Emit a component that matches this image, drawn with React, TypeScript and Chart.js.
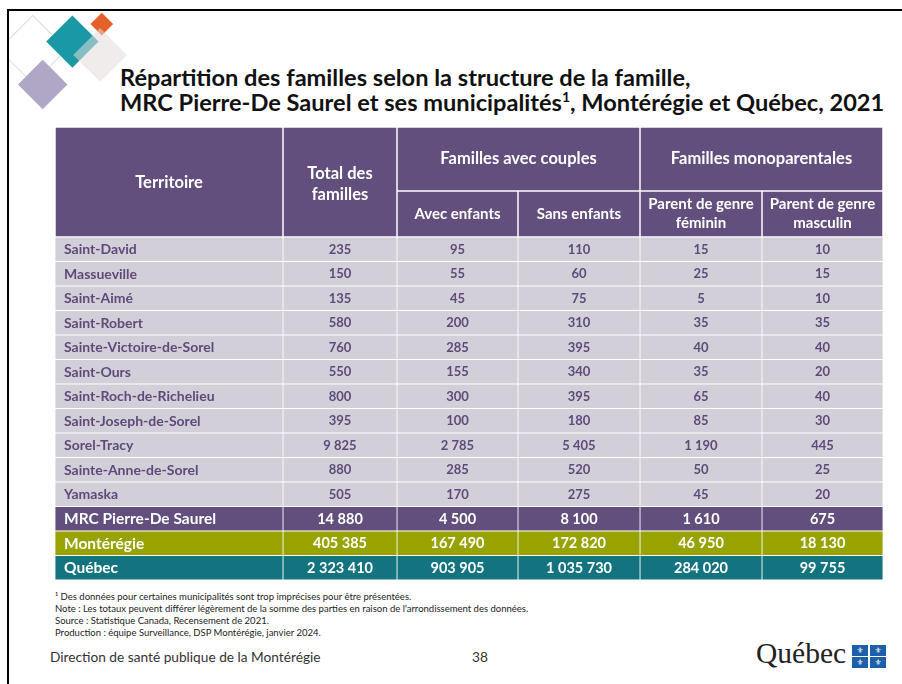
import React, { useEffect, useRef } from "react";
import { Chart, registerables } from "chart.js";

Chart.register(...registerables);

// ---------- DATA ----------
const territories = [
  "Saint-David",
  "Massueville",
  "Saint-Aimé",
  "Saint-Robert",
  "Sainte-Victoire-de-Sorel",
  "Saint-Ours",
  "Saint-Roch-de-Richelieu",
  "Saint-Joseph-de-Sorel",
  "Sorel-Tracy",
  "Sainte-Anne-de-Sorel",
  "Yamaska",
  "MRC Pierre-De Saurel",
  "Montérégie",
  "Québec",
];
const totalFamilles = [235, 150, 135, 580, 760, 550, 800, 395, 9825, 880, 505, 14880, 405385, 2323410];
const avecEnfants = [95, 55, 45, 200, 285, 155, 300, 100, 2785, 285, 170, 4500, 167490, 903905];
const sansEnfants = [110, 60, 75, 310, 395, 340, 395, 180, 5405, 520, 275, 8100, 172820, 1035730];
const parentFeminin = [15, 25, 5, 35, 40, 35, 65, 85, 1190, 50, 45, 1610, 46950, 284020];
const parentMasculin = [10, 15, 10, 35, 40, 20, 40, 30, 445, 25, 20, 675, 18130, 99755];

const headerTop = ["Territoire", "Total des\nfamilles", "Familles avec couples", "Familles monoparentales"];
const headerSub = ["Avec enfants", "Sans enfants", "Parent de genre\nféminin", "Parent de genre\nmasculin"];

const titleLines = [
  "Répartition des familles selon la structure de la famille,",
  "MRC Pierre-De Saurel et ses municipalités",
];
const footnotes = [
  "¹ Des données pour certaines municipalités sont trop imprécises pour être présentées.",
  "Note : Les totaux peuvent différer légèrement de la somme des parties en raison de l'arrondissement des données.",
  "Source : Statistique Canada, Recensement de 2021.",
  "Production : équipe Surveillance, DSP Montérégie, janvier 2024.",
];

// ---------- LAYOUT / STYLE ----------
const colWidths = [228, 114, 121, 122, 122, 121];
const bounds = colWidths.reduce((a, w) => [...a, a[a.length - 1] + w], [0] as number[]);
const PURPLE = "#624F7D";
const BODY_BG = "#D3CFD8";
const OLIVE = "#98A300";
const TEAL = "#137480";
const TEXT_PURPLE = "#5E4A7A";
const rowBg = (i: number) => (i < 11 ? BODY_BG : i === 11 ? PURPLE : i === 12 ? OLIVE : TEAL);
const rowFg = (i: number) => (i < 11 ? TEXT_PURPLE : "#FFFFFF");
const HEADER_H = 110;
const HEADER_SPLIT = 64;
const FONT = "Lato";

const fmt = (n: number) => String(n).replace(/\B(?=(\d{3})+(?!\d))/g, " ");

const tablePlugin = {
  id: "tableText",
  beforeDatasetsDraw(chart: any) {
    const ctx = chart.ctx as CanvasRenderingContext2D;
    const xs = chart.scales.x;
    const top = chart.chartArea.top - HEADER_H;
    const bottom = chart.chartArea.top;
    const mid = top + HEADER_SPLIT;
    const px = (v: number) => xs.getPixelForValue(v);
    const g = 0.75;
    const cell = (x0: number, y0: number, x1: number, y1: number) => {
      ctx.fillStyle = "#FFFFFF";
      ctx.fillRect(x0, y0, x1 - x0, y1 - y0);
      ctx.fillStyle = PURPLE;
      ctx.fillRect(x0 + g, y0 + g, x1 - x0 - 2 * g, y1 - y0 - 2 * g);
    };
    const text = (s: string, cx: number, cy: number, lh: number) => {
      const lines = s.split("\n");
      lines.forEach((l, i) => ctx.fillText(l, cx, cy + (i - (lines.length - 1) / 2) * lh));
    };
    ctx.save();
    cell(px(bounds[0]), top, px(bounds[1]), bottom);
    cell(px(bounds[1]), top, px(bounds[2]), bottom);
    cell(px(bounds[2]), top, px(bounds[4]), mid);
    cell(px(bounds[4]), top, px(bounds[6]), mid);
    for (let k = 2; k < 6; k++) cell(px(bounds[k]), mid, px(bounds[k + 1]), bottom);
    ctx.fillStyle = "#FFFFFF";
    ctx.textAlign = "center";
    ctx.textBaseline = "middle";
    ctx.font = `bold 16.5px ${FONT}`;
    text(headerTop[0], (px(bounds[0]) + px(bounds[1])) / 2, (top + bottom) / 2 + 1, 21);
    text(headerTop[1], (px(bounds[1]) + px(bounds[2])) / 2, (top + bottom) / 2 + 2, 21);
    text(headerTop[2], (px(bounds[2]) + px(bounds[4])) / 2, (top + mid) / 2, 21);
    text(headerTop[3], (px(bounds[4]) + px(bounds[6])) / 2, (top + mid) / 2, 21);
    ctx.font = `bold 15px ${FONT}`;
    for (let k = 0; k < 4; k++) {
      text(headerSub[k], (px(bounds[k + 2]) + px(bounds[k + 3])) / 2, (mid + bottom) / 2, 19);
    }
    ctx.restore();
  },
  afterDatasetsDraw(chart: any) {
    const ctx = chart.ctx as CanvasRenderingContext2D;
    ctx.save();
    ctx.textBaseline = "middle";
    chart.data.datasets.forEach((ds: any, k: number) => {
      const meta = chart.getDatasetMeta(k);
      meta.data.forEach((el: any, j: number) => {
        const { x, y, base } = el.getProps(["x", "y", "base"], true);
        const label = ds.cellText[j];
        ctx.fillStyle = rowFg(j);
        if (k === 0) {
          ctx.font = `bold ${j < 11 ? 14 : 15.5}px ${FONT}`;
          ctx.textAlign = "left";
          ctx.fillText(label, Math.min(x, base) + 9, y + 0.5);
        } else {
          ctx.font = `bold ${j < 11 ? 13 : 14.5}px ${FONT}`;
          ctx.textAlign = "center";
          ctx.fillText(label, (x + base) / 2, y + 0.5);
        }
      });
    });
    ctx.restore();
  },
};

function TableChart() {
  const ref = useRef<HTMLCanvasElement | null>(null);
  useEffect(() => {
    if (!ref.current) return;
    const columns: string[][] = [
      territories,
      totalFamilles.map(fmt),
      avecEnfants.map(fmt),
      sansEnfants.map(fmt),
      parentFeminin.map(fmt),
      parentMasculin.map(fmt),
    ];
    const chart = new Chart(ref.current, {
      type: "bar",
      data: {
        labels: territories,
        datasets: columns.map((col, k) => ({
          label: "c" + k,
          data: territories.map(() => [bounds[k], bounds[k + 1]]),
          cellText: col,
          backgroundColor: territories.map((_, i) => rowBg(i)),
          borderColor: "#FFFFFF",
          borderWidth: 0.75,
          borderSkipped: false,
          barPercentage: 1,
          categoryPercentage: 1,
          grouped: false,
        })) as any,
      },
      options: {
        indexAxis: "y",
        animation: false,
        responsive: false,
        maintainAspectRatio: false,
        layout: { padding: { top: HEADER_H, left: 0, right: 0, bottom: 0 } },
        scales: {
          x: { type: "linear", min: 0, max: bounds[bounds.length - 1], display: false },
          y: { type: "category", display: false, offset: true },
        },
        plugins: { legend: { display: false }, tooltip: { enabled: false } },
        events: [],
      },
      plugins: [tablePlugin],
    });
    return () => chart.destroy();
  }, []);
  return (
    <canvas
      ref={ref}
      width={828}
      height={453}
      style={{ position: "absolute", left: 55, top: 127, width: 828, height: 453 }}
    />
  );
}

const diamond = (cx: number, cy: number, d: number, style: React.CSSProperties): React.CSSProperties => {
  const s = d * Math.SQRT2;
  return {
    position: "absolute",
    left: cx - s / 2,
    top: cy - s / 2,
    width: s,
    height: s,
    transform: "rotate(45deg)",
    boxSizing: "border-box",
    ...style,
  };
};

export default function App() {
  return (
    <div
      style={{
        position: "absolute",
        left: 0,
        top: 0,
        width: 902,
        height: 684,
        background: "#FFFFFF",
        overflow: "hidden",
        fontFamily: FONT,
      }}
    >
      <div style={{ position: "absolute", left: 7, top: 9, width: 900, height: 700, borderTop: "2px solid #000", borderLeft: "2px solid #000" }} />
      <div style={{ position: "absolute", left: 9, top: 11, width: 200, height: 120, overflow: "hidden" }}>
        <div style={{ position: "absolute", left: -9, top: -11 }}>
          <div style={diamond(33, 50, 35, { border: "1.5px solid #D9DDD2" })} />
          <div style={diamond(72, 41, 26, { background: "#1A98A6" })} />
          <div style={diamond(102, 24, 11, { background: "#E4612B" })} />
          <div style={diamond(100, 55, 27, { background: "rgba(225,220,218,0.55)" })} />
          <div style={diamond(43, 85, 25, { background: "#AFA7C5" })} />
        </div>
      </div>
      <div
        style={{
          position: "absolute",
          left: 120,
          top: 65,
          fontSize: 23.6,
          lineHeight: "25px",
          fontWeight: 700,
          color: "#111",
          whiteSpace: "nowrap",
        }}
      >
        <div>{titleLines[0]}</div>
        <div>
          {titleLines[1]}
          <sup style={{ fontSize: 14, lineHeight: 0 }}>1</sup>, Montérégie et Québec, 2021
        </div>
      </div>
      <TableChart />
      <div style={{ position: "absolute", left: 55, top: 591, fontSize: 9.5, lineHeight: "12px", color: "#222", whiteSpace: "nowrap" }}>
        {footnotes.map((f, i) => (
          <div key={i}>{f}</div>
        ))}
      </div>
      <div style={{ position: "absolute", left: 50, top: 648, fontSize: 13.7, color: "#333", whiteSpace: "nowrap" }}>
        Direction de santé publique de la Montérégie
      </div>
      <div style={{ position: "absolute", left: 472, top: 648, fontSize: 13.7, color: "#333" }}>38</div>
      <div style={{ position: "absolute", left: 756, top: 637, fontSize: 29.5, fontFamily: "Liberation Serif", color: "#222", whiteSpace: "nowrap" }}>
        Québec
      </div>
      <div style={{ position: "absolute", left: 852, top: 645, width: 34, height: 23, display: "grid", gridTemplateColumns: "16px 16px", gridTemplateRows: "11px 11px", gap: "1px 2px" }}>
        {[0, 1, 2, 3].map((i) => (
          <div
            key={i}
            style={{ background: "#1D5FA8", color: "#fff", fontSize: 8, lineHeight: "11px", textAlign: "center", fontFamily: "DejaVu Sans" }}
          >
            ⚜
          </div>
        ))}
      </div>
    </div>
  );
}
